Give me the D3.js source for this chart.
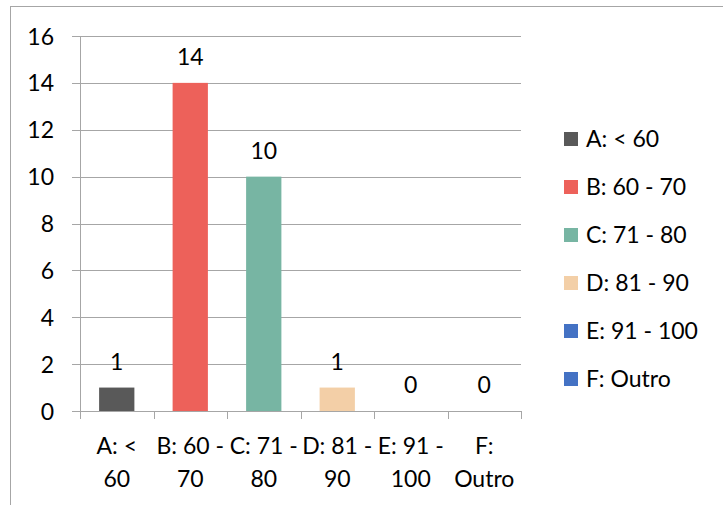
<!DOCTYPE html>
<html>
<head>
<meta charset="utf-8">
<script src="https://cdn.jsdelivr.net/npm/d3@7"></script>
<style>
  body { margin: 0; background: #fff; }
  text { font-family: Lato, "Open Sans", sans-serif; fill: #000; }
</style>
</head>
<body>
<div id="chart"></div>
<script>
// categories, values and label text
const categories = ["A: < 60", "B: 60 - 70", "C: 71 - 80", "D: 81 - 90", "E: 91 - 100", "F: Outro"]
const values = [1, 14, 10, 1, 0, 0]
const tickLines = [["A: <", "60"], ["B: 60 -", "70"], ["C: 71 -", "80"], ["D: 81 -", "90"], ["E: 91 -", "100"], ["F:", "Outro"]]
const yTicks = [0, 2, 4, 6, 8, 10, 12, 14, 16]
const colors = ["#595959", "#ed615a", "#77b5a3", "#f3cfa7", "#4472c4", "#4472c4"]

const W = 723, H = 505
const margin = {top: 36, right: 202, bottom: 94, left: 80},
    width = W - margin.left - margin.right,
    height = H - margin.top - margin.bottom
const fs = 23

const svg = d3.select("#chart")
  .append("svg")
    .attr("width", W)
    .attr("height", H)

// outer chart frame (right and bottom edges fall outside the window)
svg.append("rect")
  .attr("x", 10.5).attr("y", 6.5)
  .attr("width", 900).attr("height", 900)
  .attr("fill", "none")
  .attr("stroke", "#a6a6a6")

const g = svg.append("g")
  .attr("transform", `translate(${margin.left},${margin.top})`)

const x = d3.scaleBand()
  .domain(categories)
  .range([0, width])
  .padding(0)

const y = d3.scaleLinear()
  .domain([0, 16])
  .range([height, 0])

const color = d3.scaleOrdinal().domain(categories).range(colors)

// gridlines
g.append("g")
  .selectAll("line")
  .data(yTicks)
  .join("line")
    .attr("x1", -8).attr("x2", width)
    .attr("y1", d => Math.round(y(d)) + 0.5)
    .attr("y2", d => Math.round(y(d)) + 0.5)
    .attr("stroke", "#a6a6a6")

// y axis
const yAxis = g.append("g")
  .call(d3.axisLeft(y).tickValues(yTicks).tickSize(8).tickPadding(18))
yAxis.select(".domain").remove()
yAxis.selectAll(".tick line").remove()
yAxis.selectAll(".tick text").attr("font-size", fs).attr("dy", "0.35em")
yAxis.append("line")
  .attr("x1", 0.5).attr("x2", 0.5)
  .attr("y1", 0).attr("y2", height + 8)
  .attr("stroke", "#a6a6a6")

// x axis ticks at band edges
g.append("g")
  .selectAll("line")
  .data(categories)
  .join("line")
    .attr("x1", d => Math.round(x(d) + x.bandwidth()) + 0.5)
    .attr("x2", d => Math.round(x(d) + x.bandwidth()) + 0.5)
    .attr("y1", height).attr("y2", height + 8)
    .attr("stroke", "#a6a6a6")

// x labels, two lines each
g.append("g")
  .selectAll("text")
  .data(categories)
  .join("text")
    .attr("text-anchor", "middle")
    .attr("font-size", fs)
    .attr("transform", d => `translate(${x(d) + x.bandwidth() / 2},${height + 35})`)
    .selectAll("tspan")
    .data((d, i) => tickLines[i])
    .join("tspan")
      .attr("x", 0)
      .attr("y", (d, i) => i * 33)
      .attr("dy", "0.35em")
      .text(d => d)

// bars
const bw = x.bandwidth() * 0.48
g.append("g")
  .selectAll("rect")
  .data(values)
  .join("rect")
    .attr("x", (d, i) => x(categories[i]) + (x.bandwidth() - bw) / 2)
    .attr("y", d => y(d))
    .attr("width", bw)
    .attr("height", d => y(0) - y(d))
    .attr("fill", (d, i) => color(categories[i]))

// data labels
g.append("g")
  .selectAll("text")
  .data(values)
  .join("text")
    .attr("text-anchor", "middle")
    .attr("font-size", fs)
    .attr("x", (d, i) => x(categories[i]) + x.bandwidth() / 2)
    .attr("y", d => y(d) - 26)
    .attr("dy", "0.35em")
    .text(d => d)

// legend
const legend = svg.append("g")
  .attr("transform", "translate(564,139)")
const item = legend.selectAll("g")
  .data(categories)
  .join("g")
    .attr("transform", (d, i) => `translate(0,${i * 48})`)
item.append("rect")
  .attr("x", 0).attr("y", -7)
  .attr("width", 14).attr("height", 14)
  .attr("fill", d => color(d))
item.append("text")
  .attr("x", 22)
  .attr("dy", "0.35em")
  .attr("font-size", fs)
  .text(d => d)
</script>
</body>
</html>
